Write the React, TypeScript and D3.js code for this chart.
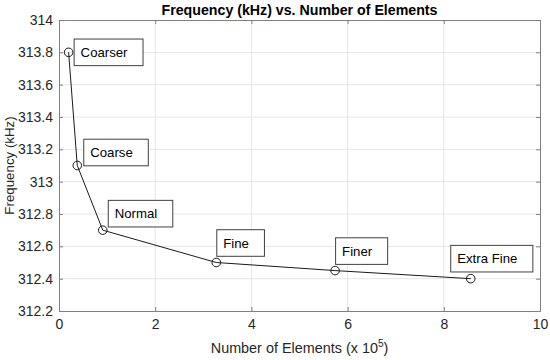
import React, { useEffect, useRef } from "react";
import * as d3 from "d3";

// mesh levels and their results
const meshNames = ["Coarser", "Coarse", "Normal", "Fine", "Finer", "Extra Fine"];
const elements = [0.2, 0.38, 0.91, 3.27, 5.74, 8.56]; // x 10^5
const frequency = [313.8, 313.1, 312.7, 312.5, 312.45, 312.4]; // kHz

const xTicks = [0, 2, 4, 6, 8, 10];
const yTicks = [312.2, 312.4, 312.6, 312.8, 313, 313.2, 313.4, 313.6, 313.8, 314];

// label box offsets (px) from each point: [dx, dy of box center]
const labelOffsets = [
  [5.5, 0],
  [6.5, -13],
  [5.5, -16.5],
  [0.5, -19.5],
  [0.5, -19.5],
  [-20, -20],
];

export default function App() {
  const ref = useRef<SVGSVGElement>(null);

  useEffect(() => {
    const width = 550;
    const height = 360;
    const margin = { top: 20, right: 10, bottom: 49, left: 59 };
    const svg = d3.select(ref.current);
    svg.selectAll("*").remove();

    const font = "Arial, 'Liberation Sans', Helvetica, sans-serif";
    const textColor = "#262626";
    const axisColor = "#808080";

    const x = d3.scaleLinear().domain([0, 10]).range([margin.left, width - margin.right]);
    const y = d3.scaleLinear().domain([312.2, 314]).range([height - margin.bottom, margin.top]);

    svg.append("rect").attr("width", width).attr("height", height).attr("fill", "white");

    // grid
    const grid = svg.append("g").attr("stroke", "#e6e6e6").attr("stroke-width", 1);
    grid.selectAll("line.vx")
      .data(xTicks.slice(1, -1))
      .enter()
      .append("line")
      .attr("x1", (d) => x(d))
      .attr("x2", (d) => x(d))
      .attr("y1", y(314))
      .attr("y2", y(312.2));
    grid.selectAll("line.hy")
      .data(yTicks.slice(1, -1))
      .enter()
      .append("line")
      .attr("y1", (d) => y(d))
      .attr("y2", (d) => y(d))
      .attr("x1", x(0))
      .attr("x2", x(10));

    // axes (box with inward ticks on all sides)
    const gx = svg.append("g")
      .attr("transform", `translate(0,${y(312.2)})`)
      .call(d3.axisBottom(x).tickValues(xTicks).tickSize(-4).tickSizeOuter(0).tickPadding(8).tickFormat(d3.format("d")));
    const gxTop = svg.append("g")
      .attr("transform", `translate(0,${y(314)})`)
      .call(d3.axisTop(x).tickValues(xTicks).tickSize(-4).tickSizeOuter(0).tickFormat(() => ""));
    const gy = svg.append("g")
      .attr("transform", `translate(${x(0)},0)`)
      .call(d3.axisLeft(y).tickValues(yTicks).tickSize(-4).tickSizeOuter(0).tickPadding(6).tickFormat((d) => String(+(+d).toFixed(1))));
    const gyRight = svg.append("g")
      .attr("transform", `translate(${x(10)},0)`)
      .call(d3.axisRight(y).tickValues(yTicks).tickSize(-4).tickSizeOuter(0).tickFormat(() => ""));

    [gx, gxTop, gy, gyRight].forEach((g) => {
      g.select(".domain").attr("stroke", axisColor);
      g.selectAll(".tick line").attr("stroke", axisColor);
      g.selectAll(".tick text")
        .attr("fill", textColor)
        .style("font-family", font)
        .style("font-size", "14px");
    });

    // line + markers
    const pts = elements.map((e, i) => [e, frequency[i]] as [number, number]);
    svg.append("path")
      .datum(pts)
      .attr("fill", "none")
      .attr("stroke", "#1a1a1a")
      .attr("stroke-width", 1)
      .attr("d", d3.line<[number, number]>().x((d) => x(d[0])).y((d) => y(d[1])));
    svg.selectAll("circle.pt")
      .data(pts)
      .enter()
      .append("circle")
      .attr("cx", (d) => x(d[0]))
      .attr("cy", (d) => y(d[1]))
      .attr("r", 4.3)
      .attr("fill", "none")
      .attr("stroke", "#1a1a1a")
      .attr("stroke-width", 1);

    // labels
    meshNames.forEach((name, i) => {
      const px = x(elements[i]) + labelOffsets[i][0];
      const py = y(frequency[i]) + labelOffsets[i][1];
      const g = svg.append("g");
      const rect = g.append("rect");
      const t = g.append("text")
        .attr("x", px + 6.5)
        .attr("y", py + 4.7)
        .attr("fill", "#000")
        .style("font-family", font)
        .style("font-size", "13.2px")
        .text(name);
      const w = (t.node() as SVGTextElement).getComputedTextLength();
      rect.attr("x", px)
        .attr("y", py - 13.3)
        .attr("width", w + 22)
        .attr("height", 26.6)
        .attr("fill", "white")
        .attr("stroke", "#404040")
        .attr("stroke-width", 1);
    });

    // title and axis labels
    svg.append("text")
      .attr("x", (x(0) + x(10)) / 2)
      .attr("y", 15)
      .attr("text-anchor", "middle")
      .attr("fill", "#000")
      .style("font-family", font)
      .style("font-size", "14.2px")
      .style("font-weight", "bold")
      .text("Frequency (kHz) vs. Number of Elements");

    svg.append("text")
      .attr("transform", `translate(14,${(y(312.2) + y(314)) / 2}) rotate(-90)`)
      .attr("text-anchor", "middle")
      .attr("fill", textColor)
      .style("font-family", font)
      .style("font-size", "13.3px")
      .text("Frequency (kHz)");

    const xl = svg.append("text")
      .attr("x", (x(0) + x(10)) / 2)
      .attr("y", 353)
      .attr("text-anchor", "middle")
      .attr("fill", textColor)
      .style("font-family", font)
      .style("font-size", "14.4px");
    xl.append("tspan").text("Number of Elements (x 10");
    xl.append("tspan").attr("dy", -6).style("font-size", "10px").text("5");
    xl.append("tspan").attr("dy", 6).text(")");
  }, []);

  return (
    <div style={{ position: "absolute", left: 0, top: 0 }}>
      <svg ref={ref} width={550} height={360} style={{ display: "block" }}></svg>
    </div>
  );
}
